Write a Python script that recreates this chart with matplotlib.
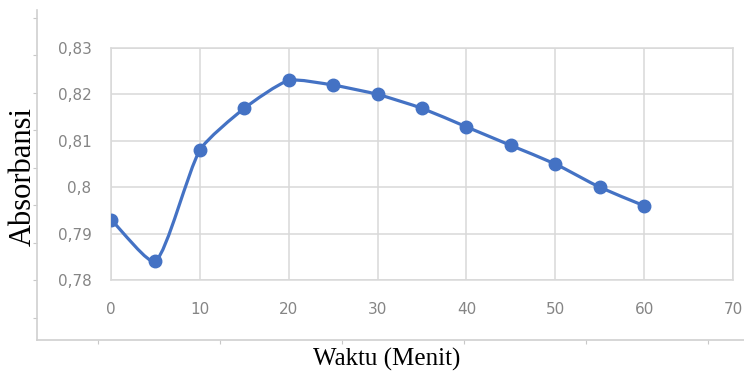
import numpy as np
import matplotlib.pyplot as plt
from matplotlib.path import Path
from matplotlib.patches import PathPatch
from matplotlib.ticker import MultipleLocator, FuncFormatter

plt.rcParams['font.family'] = ['DejaVu Sans']

waktu = [0, 5, 10, 15, 20, 25, 30, 35, 40, 45, 50, 55, 60]
absorbansi = [0.793, 0.784, 0.808, 0.817, 0.823, 0.822, 0.820,
              0.817, 0.813, 0.809, 0.805, 0.800, 0.796]

blue = "#4472C4"
grid = "#d9d9d9"
tick_col = "#858585"

fig = plt.figure(figsize=(7.44, 3.71), dpi=100)

# outer frame (left + bottom lines with small ticks)
frame = fig.add_axes([37/744, 1 - 340/371, 1 - 37/744, 330/371])
frame.set_facecolor("none")
frame.set_xlim(0, 707/122)
frame.set_ylim(0, 330/37.5)
frame.xaxis.set_major_locator(MultipleLocator(1, offset=0.5))
frame.yaxis.set_major_locator(MultipleLocator(1, offset=0.6))
frame.tick_params(length=3, width=0.8, color="#c8c8c8",
                  labelbottom=False, labelleft=False)
for s in ["top", "right"]:
    frame.spines[s].set_visible(False)
for s in ["left", "bottom"]:
    frame.spines[s].set_color("#d0d0d0")
    frame.spines[s].set_linewidth(1.2)

ax = fig.add_axes([111/744, 1 - 280/371, 622/744, 232/371])
ax.set_xlim(0, 70)
ax.set_ylim(0.78, 0.83)
ax.xaxis.set_major_locator(MultipleLocator(10))
ax.yaxis.set_major_locator(MultipleLocator(0.01))
ax.grid(True, color=grid, linewidth=1.1)
ax.set_axisbelow(True)
for s in ax.spines.values():
    s.set_color(grid)
    s.set_linewidth(1.1)
ax.tick_params(length=0, labelsize=11, labelcolor=tick_col)
ax.tick_params(axis="x", pad=16)
ax.tick_params(axis="y", pad=14)
ax.yaxis.set_major_formatter(FuncFormatter(
    lambda v, p: ("%.2f" % v).rstrip("0").replace(".", ",")))

# smooth line like Excel: bezier with tangents weighted by segment length
x = np.array(waktu, dtype=float)
y = np.array(absorbansi)
pts = ax.transData.transform(np.column_stack([x, y]))
n = len(pts)
tang = np.zeros_like(pts)
arm_prev = np.zeros(n)
arm_next = np.zeros(n)
for i in range(n):
    a = pts[max(i - 1, 0)]
    b = pts[min(i + 1, n - 1)]
    tang[i] = b - a
    l1 = np.hypot(*(pts[i] - a))
    l2 = np.hypot(*(b - pts[i]))
    tot = l1 + l2
    arm_prev[i] = l1 / tot / 5
    arm_next[i] = l2 / tot / 5
verts = [pts[0]]
codes = [Path.MOVETO]
for i in range(n - 1):
    verts += [pts[i] + tang[i] * arm_next[i],
              pts[i + 1] - tang[i + 1] * arm_prev[i + 1],
              pts[i + 1]]
    codes += [Path.CURVE4] * 3
verts = ax.transData.inverted().transform(np.array(verts))
ax.add_patch(PathPatch(Path(verts, codes), facecolor="none",
                       edgecolor=blue, linewidth=2.3, capstyle="round"))
ax.plot(waktu, absorbansi, "o", color=blue, markersize=9, zorder=3)

fig.text(23/744, 1 - 177/371, "Absorbansi", rotation=90, ha="center",
         va="center", fontsize=22, family="Liberation Serif")
fig.text(387/744, 1 - 359/371, "Waktu (Menit)", ha="center", va="center",
         fontsize=18, family="Liberation Serif")

fig.savefig("out.png", dpi=100)
